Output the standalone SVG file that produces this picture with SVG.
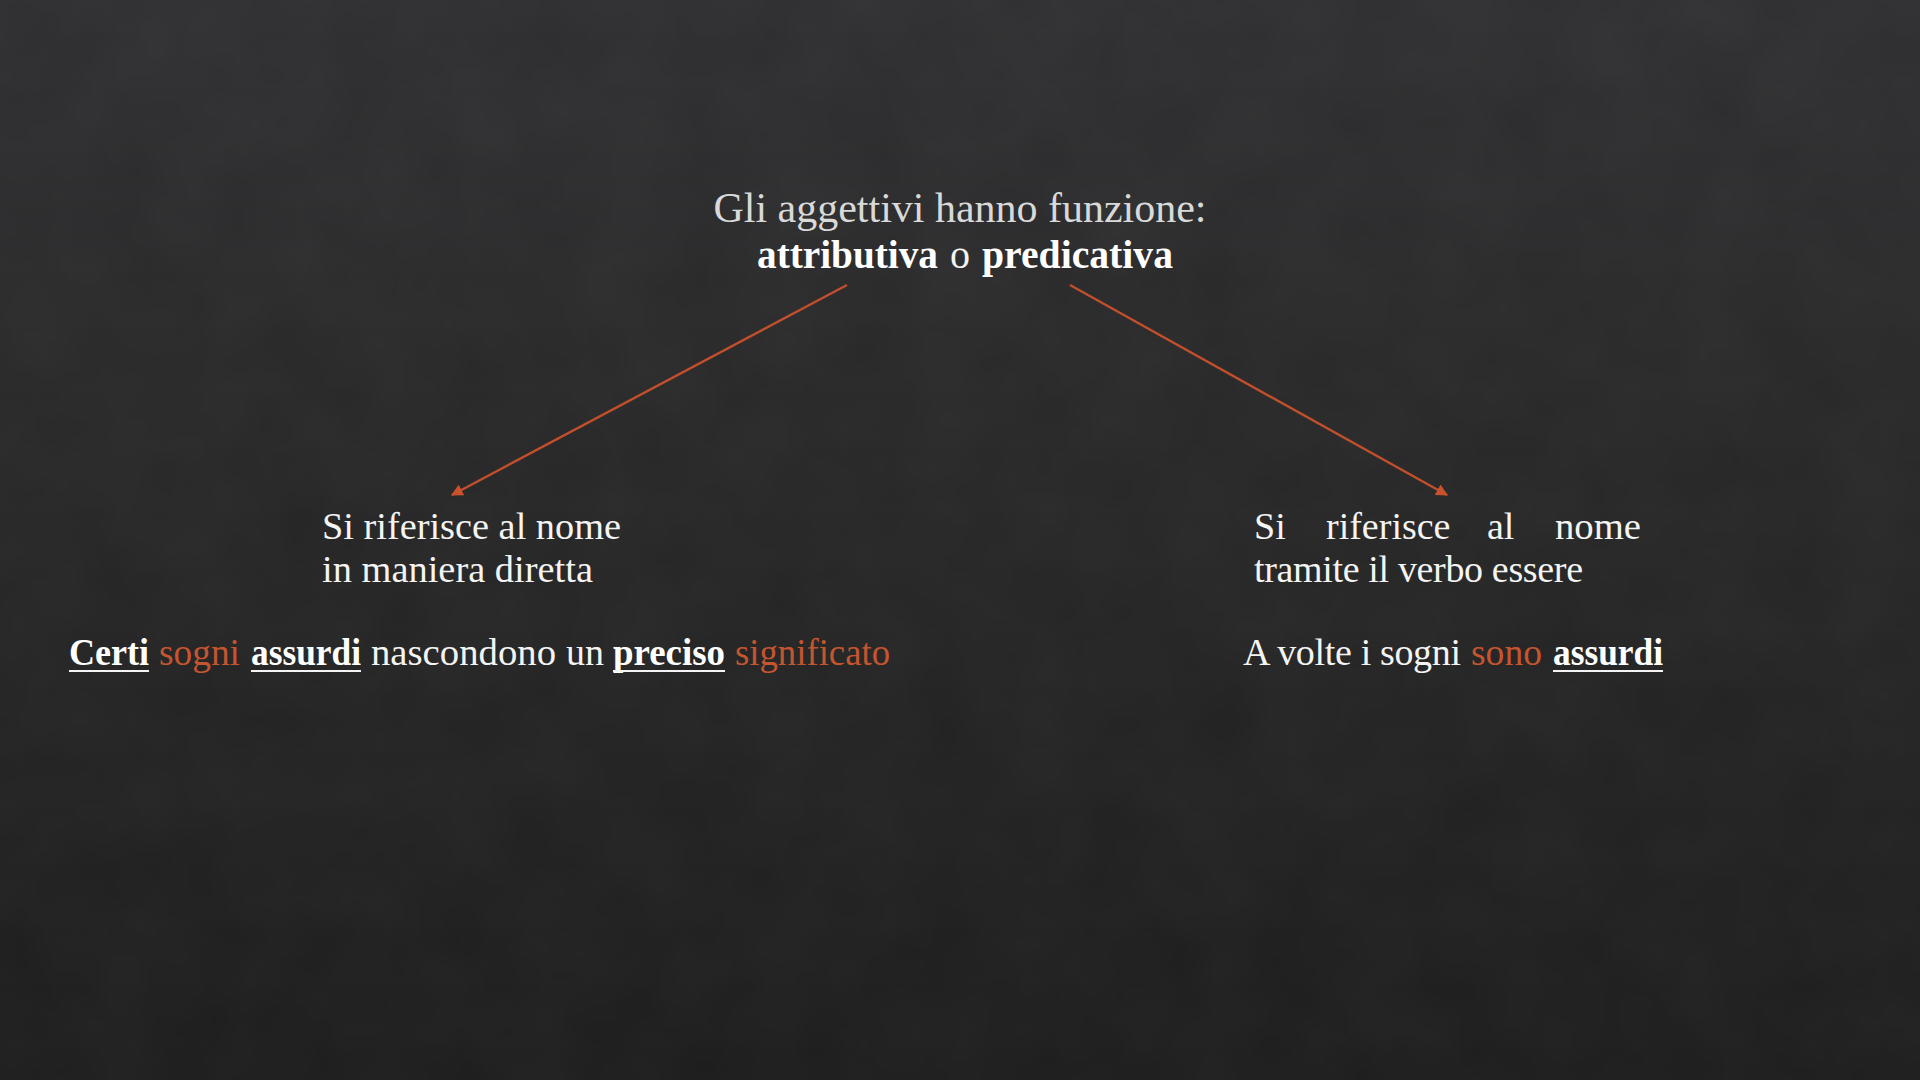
<svg xmlns="http://www.w3.org/2000/svg" width="1920" height="1080" viewBox="0 0 1920 1080">
<defs>
<linearGradient id="bg" x1="0" y1="0" x2="0" y2="1">
<stop offset="0" stop-color="#2f2f31"/>
<stop offset="0.5" stop-color="#262627"/>
<stop offset="1" stop-color="#1d1d1d"/>
</linearGradient>
<filter id="noise" x="0" y="0" width="100%" height="100%">
<feTurbulence type="fractalNoise" baseFrequency="0.012" numOctaves="3" seed="4"/>
<feColorMatrix type="matrix" values="0 0 0 0 1  0 0 0 0 1  0 0 0 0 1  0 0 0 0.035 0"/>
</filter>
<marker id="ah" viewBox="0 0 10 10" refX="9" refY="5" markerWidth="5" markerHeight="5" orient="auto" markerUnits="strokeWidth">
<path d="M0,0 L10,5 L0,10 z" fill="#c9512c"/>
</marker>
<style>
.t{font-family:"Liberation Serif","DejaVu Serif",serif;fill:#f4f4f4}
.g{fill:#d9d9d9}
.b{font-weight:bold;fill:#ffffff}
.o{fill:#c4552f}
.conn{stroke:#c24f2c;stroke-width:2.4;fill:none}
.ul{stroke:#f4f4f4;stroke-width:2}
</style>
</defs>
<rect width="1920" height="1080" fill="url(#bg)"/>
<rect width="1920" height="1080" filter="url(#noise)"/>

<g id="connectors">
<line class="conn" x1="847" y1="285" x2="452" y2="495" marker-end="url(#ah)"/>
<line class="conn" x1="1070" y1="285" x2="1447" y2="495" marker-end="url(#ah)"/>
</g>

<g id="title">
<text class="t g" x="960" y="222" font-size="42" text-anchor="middle" textLength="493" lengthAdjust="spacing">Gli aggettivi hanno funzione:</text>
<text class="t" y="268" font-size="40"><tspan class="b" x="757" textLength="181" lengthAdjust="spacingAndGlyphs">attributiva</tspan><tspan x="950" textLength="20" lengthAdjust="spacingAndGlyphs">o</tspan><tspan class="b" x="982" textLength="191" lengthAdjust="spacingAndGlyphs">predicativa</tspan></text>
</g>

<g id="left-node">
<text class="t" x="322" y="539" font-size="38" textLength="299" lengthAdjust="spacingAndGlyphs">Si riferisce al nome</text>
<text class="t" x="322" y="582" font-size="38" textLength="271" lengthAdjust="spacingAndGlyphs">in maniera diretta</text>
</g>

<g id="right-node">
<text class="t" y="539" font-size="38"><tspan x="1254">Si</tspan><tspan x="1326">riferisce</tspan><tspan x="1487">al</tspan><tspan x="1555" textLength="86" lengthAdjust="spacingAndGlyphs">nome</tspan></text>
<text class="t" x="1254" y="582" font-size="38" textLength="329" lengthAdjust="spacing">tramite il verbo essere</text>
</g>

<g id="left-example">
<text class="t" y="665" font-size="38"><tspan class="b" x="69" textLength="80" lengthAdjust="spacingAndGlyphs">Certi</tspan><tspan class="o" x="159" textLength="81" lengthAdjust="spacingAndGlyphs">sogni</tspan><tspan class="b" x="251" textLength="110" lengthAdjust="spacingAndGlyphs">assurdi</tspan><tspan x="371" textLength="185" lengthAdjust="spacingAndGlyphs">nascondono</tspan><tspan x="566" textLength="38" lengthAdjust="spacingAndGlyphs">un</tspan><tspan class="b" x="613" textLength="112" lengthAdjust="spacingAndGlyphs">preciso</tspan><tspan class="o" x="735" textLength="155" lengthAdjust="spacingAndGlyphs">significato</tspan></text>
<line class="ul" x1="69" y1="671" x2="149" y2="671"/>
<line class="ul" x1="251" y1="671" x2="361" y2="671"/>
<line class="ul" x1="613" y1="671" x2="725" y2="671"/>
</g>

<g id="right-example">
<text class="t" y="665" font-size="38"><tspan x="1243" textLength="218" lengthAdjust="spacing">A volte i sogni</tspan><tspan class="o" x="1471" textLength="71" lengthAdjust="spacingAndGlyphs">sono</tspan><tspan class="b" x="1553" textLength="110" lengthAdjust="spacingAndGlyphs">assurdi</tspan></text>
<line class="ul" x1="1553" y1="671" x2="1663" y2="671"/>
</g>
</svg>
